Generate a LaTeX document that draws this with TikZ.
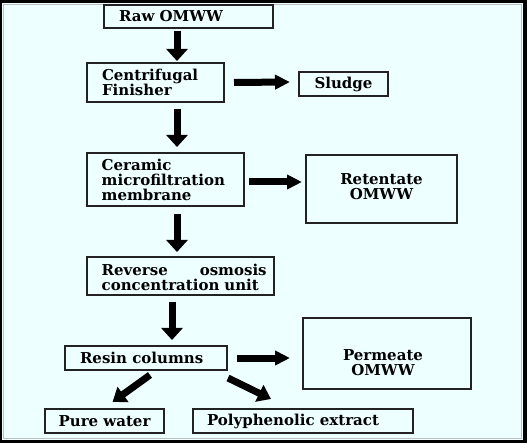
\documentclass[tikz,border=0pt]{standalone}
\usepackage{fontspec}
\setmainfont{DejaVu Serif}
\usetikzlibrary{arrows.meta}
\definecolor{bgc}{HTML}{EEFFFF}
\definecolor{boxline}{HTML}{222222}
\begin{document}
\begin{tikzpicture}[x=1pt,y=-1pt,
  box/.style={draw=boxline, line width=1.6pt, inner sep=0pt, outer sep=0pt},
  txt/.style={inner sep=0pt, outer sep=0pt, text=black,
    font=\fontsize{15}{15}\selectfont\bfseries},
  ltxt/.style={txt, align=left, anchor=west},
  ctxt/.style={txt, align=center},
  varr/.style={line width=7pt, black, -{Triangle[width=21pt,length=12pt]}},
  harr/.style={line width=7pt, black, -{Triangle[width=14pt,length=15pt]}},
  darr/.style={line width=7pt, black, -{Triangle[width=18pt,length=13pt]}}]
\useasboundingbox (0,0) rectangle (527,443);
\fill[black] (0,0) rectangle (527,443);
\fill[bgc] (2,3) rectangle (523,440);
\draw[gray!50, line width=0.6pt] (3.5,4.5) rectangle (521.5,438.5);

% boxes
\node[box, minimum width=169pt, minimum height=23pt] (raw) at (188.5,16.5) {};
\node[box, minimum width=137pt, minimum height=39pt] (cent) at (155.5,82.5) {};
\node[box, minimum width=89pt, minimum height=24pt] (sludge) at (343.5,84) {};
\node[box, minimum width=157pt, minimum height=53pt] (ceramic) at (165.5,179.5) {};
\node[box, minimum width=151pt, minimum height=68pt] (ret) at (381.5,189) {};
\node[box, minimum width=187pt, minimum height=38pt] (rev) at (180.5,276) {};
\node[box, minimum width=162pt, minimum height=24pt] (resin) at (146,358) {};
\node[box, minimum width=168pt, minimum height=71pt] (perm) at (387,353.5) {};
\node[box, minimum width=119pt, minimum height=24pt] (pure) at (104.5,421) {};
\node[box, minimum width=220pt, minimum height=24pt] (poly) at (303,421) {};

% texts
\node[ltxt] (rawtext) at ([xshift=15pt]raw.west) {Raw OMWW};
\node[ltxt] (centtext) at ([xshift=15pt]cent.west) {Centrifugal\\Finisher};
\node[ctxt] (sludgetext) at (sludge.center) {Sludge};
\node[ltxt] (cerText) at ([xshift=14.7pt]ceramic.west) {Ceramic\\microfiltration\\membrane};
\node[ctxt] (rettext) at ([yshift=2.5pt]ret.center) {Retentate\\OMWW};
\node[ltxt, text width=165pt] (revtext) at ([xshift=14.7pt,yshift=-1pt]rev.west) {\hbox to\linewidth{Reverse\hfill osmosis}\\concentration unit};
\node[ltxt] (resintext) at ([xshift=15pt]resin.west) {Resin columns};
\node[ctxt] (permtext) at ([xshift=-4pt,yshift=-9pt]perm.center) {Permeate\\OMWW};
\node[ctxt] (puretext) at (pure.center) {Pure water};
\node[ltxt] (polytext) at ([xshift=14pt]poly.west) {Polyphenolic extract};

% arrows
\draw[varr] ([xshift=73pt,yshift=-3pt]raw.south west) -- ([xshift=90pt,yshift=2pt]cent.north west);
\draw[varr] ([xshift=90pt,yshift=-7pt]cent.south west) -- ([xshift=90pt,yshift=6pt]ceramic.north west);
\draw[varr] ([xshift=90pt,yshift=-8pt]ceramic.south west) -- ([xshift=90pt,yshift=5pt]rev.north west);
\draw[varr] ([xshift=85pt,yshift=-7pt]rev.south west) -- ([xshift=107pt,yshift=6pt]resin.north west);
\draw[harr] ([xshift=10pt]cent.east) -- ([xshift=-9pt,yshift=2pt]sludge.west);
\draw[harr] ([xshift=5pt,yshift=-2.5pt]ceramic.east) -- ([xshift=-4pt,yshift=7pt]ret.west);
\draw[harr] ([xshift=10pt]resin.east) -- ([xshift=-13pt,yshift=-4.5pt]perm.west);
\draw[darr] ([xshift=4pt,yshift=-5pt]resin.south) -- ([xshift=8pt,yshift=7pt]pure.north);
\draw[darr] ([xshift=1pt,yshift=-8pt]resin.south east) -- ([xshift=78pt,yshift=10pt]poly.north west);
\end{tikzpicture}
\end{document}
